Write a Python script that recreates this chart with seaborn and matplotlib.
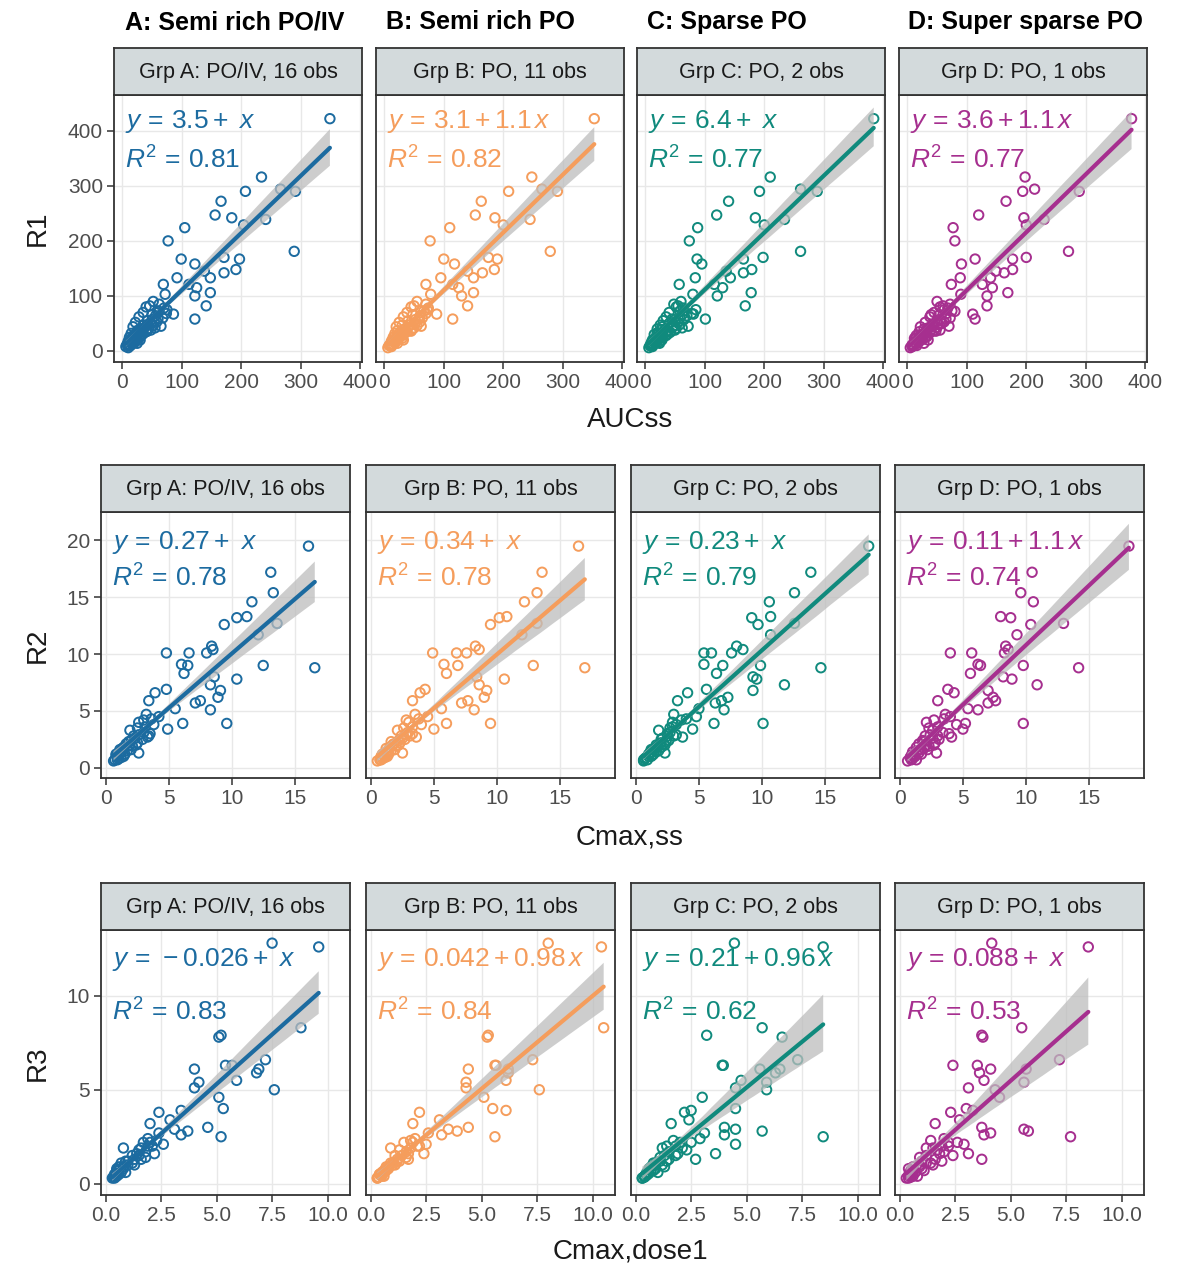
import numpy as np
import pandas as pd
import matplotlib
matplotlib.use('Agg')
import matplotlib.pyplot as plt
from matplotlib.collections import PolyCollection
import seaborn as sns

# ---- data -----------------------------------------------------------------
groups = ['A', 'B', 'C', 'D']
col_titles = ['A: Semi rich PO/IV', 'B: Semi rich PO', 'C: Sparse PO', 'D: Super sparse PO']
strip_labels = ['Grp A: PO/IV, 16 obs', 'Grp B: PO, 11 obs', 'Grp C: PO, 2 obs', 'Grp D: PO, 1 obs']
colors = ['#1c6ba0', '#f59d5c', '#108a7d', '#a62f8f']

# row 1: R1 vs AUCss
r1_y = [422, 290, 316, 290, 294, 272, 247, 242, 239, 229, 224, 200, 181, 167, 170, 167,
        148, 142, 145, 133, 158, 121, 133, 121, 115, 106, 100, 82, 58, 103, 67, 82, 73,
        90, 85, 80, 75, 70, 66, 62, 58, 55, 52, 50, 47, 44, 42, 40, 37, 35, 32, 30, 28,
        25, 23, 20, 18, 15, 12, 10, 8, 6, 20, 14, 45, 38,
        9, 11, 13, 16, 17, 19, 21, 22, 24, 26, 27, 29, 31, 33, 34, 36, 39, 41, 43, 46,
        48, 53, 57, 60, 64, 68, 72, 78]
r1_xa = [349, 291, 234, 207, 266, 166, 156, 184, 241, 204, 105, 77, 289, 99, 171, 197,
         191, 171, 138, 148, 122, 69, 92, 112, 125, 148, 122, 141, 122, 72, 86, 46, 59,
         52, 62, 40, 75, 35, 50, 28, 60, 42, 22, 48, 35, 18, 55, 30, 25, 40, 15, 32, 22,
         12, 28, 18, 10, 20, 8, 14, 6, 10, 30, 25, 65, 48,
         12, 9, 16, 13, 22, 15, 24, 16, 20, 30, 18, 26, 35, 24, 30, 42, 35, 44, 38, 52,
         42, 58, 50, 68, 56, 74, 62, 70]
r1_xb = [353, 291, 248, 209, 265, 163, 153, 186, 245, 200, 110, 77, 279, 100, 175, 190,
         185, 165, 140, 150, 118, 70, 95, 115, 125, 150, 130, 140, 115, 78, 88, 50, 62,
         55, 70, 45, 72, 38, 48, 32, 58, 40, 25, 52, 30, 20, 50, 35, 22, 38, 18, 28, 25,
         15, 30, 14, 12, 18, 10, 8, 12, 6, 32, 22, 62, 46,
         11, 13, 14, 17, 19, 16, 20, 24, 22, 27, 21, 32, 30, 26, 34, 45, 32, 48, 40, 55,
         44, 60, 52, 64, 60, 70, 66, 74]
r1_xc = [384, 289, 210, 192, 261, 140, 120, 185, 234, 200, 88, 74, 261, 87, 198, 165,
         179, 165, 136, 143, 95, 57, 84, 116, 130, 178, 121, 168, 101, 80, 81, 55, 66,
         60, 48, 52, 85, 40, 62, 35, 45, 30, 55, 40, 25, 28, 62, 20, 38, 30, 22, 15, 35,
         18, 25, 12, 20, 10, 14, 8, 12, 6, 28, 24, 72, 50,
         9, 12, 11, 15, 24, 14, 17, 20, 28, 22, 30, 24, 38, 20, 42, 36, 28, 52, 46, 48,
         58, 50, 65, 58, 70, 78, 58, 64]
r1_xd = [377, 289, 198, 194, 214, 166, 120, 196, 230, 200, 77, 80, 271, 114, 200, 177,
         177, 163, 149, 140, 91, 74, 89, 126, 143, 169, 134, 134, 114, 90, 110, 60, 75,
         50, 72, 55, 62, 45, 40, 38, 65, 50, 30, 58, 42, 22, 35, 28, 45, 20, 32, 25, 15,
         30, 12, 22, 18, 14, 10, 16, 8, 5, 35, 28, 70, 55,
         10, 8, 15, 12, 20, 18, 26, 14, 19, 33, 25, 22, 28, 38, 30, 48, 40, 36, 50, 44,
         52, 62, 55, 72, 52, 66, 80, 68]

# row 2: R2 vs Cmax,ss
r2_y = [19.5, 17.2, 15.4, 14.6, 13.3, 13.2, 12.6, 12.7, 11.7, 10.7, 10.4, 10.1, 10.1, 10.1,
        8.8, 9.0, 9.1, 9.0, 8.3, 8.0, 7.8, 7.3, 6.8, 6.2, 6.9, 5.7, 5.9, 5.1, 5.9, 6.6,
        3.9, 3.9, 3.4, 4.7, 5.2, 4.5, 4.2, 3.8, 3.5, 3.0, 2.8, 2.5, 2.3, 2.0, 1.8, 1.6,
        1.4, 1.2, 1.0, 0.9, 0.7, 0.6, 3.3, 2.7, 1.3, 4.0,
        0.8, 1.1, 1.3, 1.5, 1.7, 1.9, 2.1, 2.2, 2.4, 2.6, 2.9, 3.1, 3.6, 4.3, 1.0, 1.6,
        2.0, 0.7, 1.2, 2.8]
r2_xa = [16.1, 13.1, 13.3, 11.6, 11.2, 10.4, 9.4, 13.6, 12.1, 8.4, 8.5, 4.8, 6.6, 8.0,
         16.6, 12.5, 6.0, 6.5, 6.2, 8.6, 10.4, 8.3, 9.1, 8.9, 4.8, 7.1, 7.5, 8.3, 3.4, 3.9,
         9.6, 6.1, 4.9, 3.2, 5.5, 4.2, 3.0, 3.8, 2.5, 3.5, 2.2, 2.9, 1.8, 2.4, 1.4, 2.0,
         1.1, 1.5, 0.9, 1.2, 0.7, 0.6, 1.9, 3.3, 2.6, 2.6,
         1.0, 0.8, 1.2, 1.7, 1.3, 2.1, 1.6, 2.5, 2.0, 2.3, 2.6, 3.0, 3.1, 3.6, 1.4, 1.1,
         1.9, 0.9, 0.8, 3.4]
r2_xb = [16.5, 13.6, 13.2, 12.2, 10.8, 10.2, 9.5, 13.2, 12.0, 8.3, 8.6, 4.9, 6.8, 7.6,
         17.0, 12.9, 5.8, 6.9, 6.0, 8.4, 10.6, 8.6, 9.2, 9.0, 4.3, 7.2, 7.7, 8.2, 3.3, 3.9,
         9.5, 6.0, 5.0, 3.5, 5.6, 4.5, 2.8, 4.0, 2.6, 3.3, 2.4, 2.7, 1.6, 2.2, 1.5, 1.9,
         1.2, 1.4, 0.8, 1.1, 0.7, 0.5, 2.1, 3.6, 2.5, 3.0,
         0.9, 1.0, 1.3, 1.6, 1.2, 2.0, 1.8, 2.3, 2.2, 2.5, 2.8, 2.9, 3.3, 3.8, 1.3, 1.4,
         1.7, 0.8, 0.9, 3.1]
r2_xc = [18.5, 13.9, 12.6, 10.6, 10.7, 9.2, 9.7, 12.6, 10.7, 8.0, 8.5, 5.4, 6.0, 7.6,
         14.7, 9.9, 5.4, 6.9, 6.4, 9.3, 9.6, 11.8, 9.3, 7.3, 5.6, 6.3, 6.8, 7.0, 3.3, 4.1,
         10.1, 6.2, 4.5, 3.0, 5.0, 4.8, 3.6, 3.2, 2.7, 2.5, 3.0, 2.0, 2.4, 1.6, 2.0, 1.3,
         1.6, 1.0, 1.2, 0.8, 0.9, 0.6, 1.8, 3.7, 2.3, 2.9,
         0.7, 1.3, 1.1, 1.8, 1.5, 1.7, 2.2, 2.0, 2.6, 2.1, 3.2, 2.7, 2.9, 4.0, 1.0, 1.2,
         2.3, 0.6, 1.4, 2.5]
r2_xd = [18.2, 10.5, 9.6, 10.6, 8.0, 8.8, 10.4, 13.0, 9.3, 8.4, 8.6, 4.0, 5.7, 8.3,
         14.2, 9.8, 6.2, 6.4, 5.6, 8.2, 8.9, 10.9, 7.0, 7.4, 3.8, 7.0, 7.6, 6.2, 3.0, 4.3,
         9.8, 5.2, 5.0, 3.6, 5.4, 4.0, 2.7, 4.5, 2.3, 3.9, 2.0, 3.1, 1.9, 2.7, 1.3, 2.2,
         1.0, 1.7, 1.1, 0.8, 1.3, 0.6, 2.6, 4.1, 2.9, 2.1,
         1.0, 0.9, 1.5, 1.4, 1.9, 2.3, 1.5, 2.8, 1.8, 2.6, 2.4, 3.4, 3.0, 3.5, 1.2, 1.7,
         2.1, 0.9, 1.1, 3.0]

# row 3: R3 vs Cmax,dose1
r3_y = [12.8, 12.6, 8.3, 7.9, 7.8, 6.6, 6.1, 5.9, 6.3, 6.3, 5.5, 5.0, 6.1, 5.4, 5.1, 4.6,
        4.0, 3.9, 3.0, 2.5, 2.8, 2.9, 2.6, 2.1, 1.6, 3.8, 1.9, 3.2, 1.3, 2.2, 2.0, 1.8,
        1.5, 1.2, 1.0, 0.9, 0.7, 0.6, 0.5, 0.4, 0.3, 2.4, 2.7, 1.4, 3.4, 0.8, 2.3, 1.1,
        0.35, 0.45, 0.55, 0.6, 0.7, 0.8, 0.9, 1.0, 1.1, 1.2, 1.3, 1.5, 1.6, 1.7, 1.9, 2.0,
        0.5, 0.4, 0.3, 2.2]
r3_xa = [7.5, 9.6, 8.8, 5.2, 5.1, 7.2, 6.9, 6.8, 5.4, 5.7, 5.9, 7.6, 4.0, 4.2, 4.0, 5.1,
         5.3, 3.4, 4.6, 5.2, 3.7, 3.1, 3.4, 2.6, 2.2, 2.4, 0.8, 2.0, 1.6, 1.7, 2.1, 1.5,
         1.2, 1.0, 1.3, 0.8, 0.6, 0.9, 0.4, 0.5, 0.3, 1.9, 2.4, 1.8, 2.9, 0.5, 2.3, 0.7,
         0.35, 0.5, 0.45, 0.7, 0.5, 0.8, 0.6, 1.0, 1.2, 0.9, 1.3, 1.5, 1.4, 1.8, 1.6, 1.9,
         0.6, 0.4, 0.4, 2.0]
r3_xb = [8.0, 10.4, 10.5, 5.3, 5.25, 7.3, 6.2, 6.2, 5.6, 5.65, 6.1, 7.6, 4.4, 4.3, 4.3, 5.1,
         5.5, 6.1, 4.4, 5.6, 3.9, 3.5, 3.2, 2.5, 2.4, 2.2, 0.9, 1.9, 1.7, 1.5, 2.2, 1.3,
         1.1, 1.2, 1.0, 0.7, 0.6, 0.5, 0.4, 0.6, 0.3, 2.0, 2.6, 1.6, 3.1, 0.8, 1.8, 0.9,
         0.35, 0.45, 0.5, 0.6, 0.7, 0.7, 0.8, 1.1, 1.0, 1.3, 1.2, 1.4, 1.7, 1.6, 1.8, 2.1,
         0.4, 0.5, 0.3, 1.9]
r3_xc = [4.45, 8.45, 5.7, 3.2, 6.6, 7.3, 5.6, 6.3, 3.9, 3.95, 4.75, 5.9, 6.5, 5.9, 4.5, 3.0,
         4.5, 2.5, 4.0, 8.45, 5.7, 4.5, 4.0, 4.5, 3.6, 2.2, 1.2, 1.6, 2.7, 2.0, 1.4, 2.3,
         1.8, 1.4, 0.9, 1.3, 0.7, 1.0, 0.5, 0.4, 0.3, 2.9, 3.1, 1.1, 2.4, 0.6, 1.7, 0.8,
         0.4, 0.5, 0.6, 0.5, 0.8, 0.9, 0.7, 1.2, 0.9, 1.1, 1.5, 1.3, 1.9, 1.5, 2.1, 1.8,
         0.5, 0.4, 0.3, 2.5]
r3_xd = [4.15, 8.5, 5.5, 3.7, 3.75, 7.2, 4.1, 3.6, 3.5, 2.4, 3.8, 4.3, 5.7, 5.6, 3.1, 4.5,
         3.0, 3.3, 3.7, 7.7, 5.8, 5.6, 3.8, 2.9, 3.1, 2.3, 1.2, 1.6, 3.7, 2.6, 1.9, 1.7,
         2.4, 1.9, 1.5, 0.9, 1.1, 0.6, 0.5, 0.8, 0.4, 2.0, 4.1, 0.9, 2.7, 0.4, 1.4, 1.2,
         0.5, 0.4, 0.6, 0.7, 0.5, 1.0, 0.6, 0.9, 1.4, 1.0, 1.6, 1.2, 1.8, 2.0, 1.5, 2.2,
         0.5, 0.6, 0.3, 2.2]

eq_r1 = [r'$y\,=\,3.5+\ x$', r'$y\,=\,3.1+1.1\,x$', r'$y\,=\,6.4+\ x$', r'$y\,=\,3.6+1.1\,x$']
rsq_r1 = [r'$R^2\,=\,0.81$', r'$R^2\,=\,0.82$', r'$R^2\,=\,0.77$', r'$R^2\,=\,0.77$']
eq_r2 = [r'$y\,=\,0.27+\ x$', r'$y\,=\,0.34+\ x$', r'$y\,=\,0.23+\ x$', r'$y\,=\,0.11+1.1\,x$']
rsq_r2 = [r'$R^2\,=\,0.78$', r'$R^2\,=\,0.78$', r'$R^2\,=\,0.79$', r'$R^2\,=\,0.74$']
eq_r3 = [r'$y\,=\,-0.026+\ x$', r'$y\,=\,0.042+0.98\,x$', r'$y\,=\,0.21+0.96\,x$', r'$y\,=\,0.088+\ x$']
rsq_r3 = [r'$R^2\,=\,0.83$', r'$R^2\,=\,0.84$', r'$R^2\,=\,0.62$', r'$R^2\,=\,0.53$']

rows = [
    dict(y=r1_y, xs=[r1_xa, r1_xb, r1_xc, r1_xd], ylabel='R1', xlabel='AUCss',
         eq=eq_r1, rsq=rsq_r1, ylim=(-20, 465), yticks=[0, 100, 200, 300, 400],
         xticks=[0, 100, 200, 300, 400], fmt='{:.0f}'),
    dict(y=r2_y, xs=[r2_xa, r2_xb, r2_xc, r2_xd], ylabel='R2', xlabel='Cmax,ss',
         eq=eq_r2, rsq=rsq_r2, ylim=(-0.9, 22.5), yticks=[0, 5, 10, 15, 20],
         xticks=[0, 5, 10, 15], fmt='{:.0f}'),
    dict(y=r3_y, xs=[r3_xa, r3_xb, r3_xc, r3_xd], ylabel='R3', xlabel='Cmax,dose1',
         eq=eq_r3, rsq=rsq_r3, ylim=(-0.6, 13.5), yticks=[0, 5, 10],
         xticks=[0, 2.5, 5, 7.5, 10], fmt='{:.1f}'),
]

# ---- layout (pixels) -------------------------------------------------------
sns.set_theme(style='white')
plt.rcParams['font.family'] = ['Liberation Sans', 'DejaVu Sans']
plt.rcParams['mathtext.fontset'] = 'custom'
plt.rcParams['mathtext.rm'] = 'Liberation Sans'
plt.rcParams['mathtext.it'] = 'Liberation Sans:italic'

W, H = 1187, 1269
fig = plt.figure(figsize=(W / 100, H / 100), dpi=100)


def px_axes(x0, y0, x1, y1):
    return fig.add_axes([x0 / W, 1 - y1 / H, (x1 - x0) / W, (y1 - y0) / H])


row_x0 = [[114, 376, 637, 899], [101, 366, 631, 895], [101, 366, 631, 895]]
row_w = [248, 249, 249]
row_strip = [(48, 95), (465, 512), (883, 930)]
row_bottom = [362, 778, 1195]
eq_pos = [(0.90, 0.755), (0.887, 0.752), (0.887, 0.69)]
xlabel_y = [420, 838, 1252]
ylabel_y = [228, 645, 1063]
strip_fc = '#d3dadc'
edge = '#333333'

for r, row in enumerate(rows):
    allx = np.concatenate([np.asarray(v, float) for v in row['xs']])
    span = allx.max() - allx.min()
    xlim = (allx.min() - 0.05 * span, allx.max() + 0.05 * span)
    s0, s1 = row_strip[r]
    for g in range(4):
        x0 = row_x0[r][g]
        x1 = x0 + row_w[r]
        df = pd.DataFrame({'x': row['xs'][g], 'y': row['y']})
        ax = px_axes(x0, s1, x1, row_bottom[r])
        ax.set_axisbelow(True)
        ax.grid(True, color='#e8e8e8', lw=1.0)
        sns.scatterplot(data=df, x='x', y='y', ax=ax, marker='o', s=46,
                        color=colors[g], facecolor='none', edgecolor=colors[g],
                        linewidth=1.4, zorder=3)
        n_before = len(ax.collections)
        sns.regplot(data=df, x='x', y='y', ax=ax, scatter=False, color=colors[g],
                    ci=85, seed=0, line_kws={'lw': 3.0, 'zorder': 5})
        for coll in ax.collections[n_before:]:
            if isinstance(coll, PolyCollection):
                coll.set_facecolor('#bdbdbd')
                coll.set_alpha(0.75)
                coll.set_edgecolor('none')
                coll.set_zorder(4)
        ax.set_xlim(xlim)
        ax.set_ylim(row['ylim'])
        ax.set_xticks(row['xticks'])
        ax.set_xticklabels([row['fmt'].format(t) for t in row['xticks']])
        ax.set_yticks(row['yticks'])
        ax.set_xlabel('')
        ax.set_ylabel('')
        ax.tick_params(axis='both', direction='out', length=5, width=1.1, color=edge,
                       labelsize=15, labelcolor='#4d4d4d', pad=3)
        if g > 0:
            ax.tick_params(axis='y', left=False, labelleft=False)
        else:
            ax.tick_params(axis='y', left=True)
        ax.tick_params(axis='x', bottom=True)
        for sp in ax.spines.values():
            sp.set_visible(True)
            sp.set_color(edge)
            sp.set_linewidth(1.3)
        ax.text(0.045, eq_pos[r][0], row['eq'][g], transform=ax.transAxes,
                color=colors[g], fontsize=19, va='center', ha='left', zorder=6)
        ax.text(0.045, eq_pos[r][1], row['rsq'][g], transform=ax.transAxes,
                color=colors[g], fontsize=19, va='center', ha='left', zorder=6)

        # facet strip
        sax = px_axes(x0, s0, x1, s1)
        sax.set_facecolor(strip_fc)
        sax.set_xticks([])
        sax.set_yticks([])
        for sp in sax.spines.values():
            sp.set_visible(True)
            sp.set_color(edge)
            sp.set_linewidth(1.3)
        sax.text(0.5, 0.48, strip_labels[g], transform=sax.transAxes, ha='center',
                 va='center', fontsize=15.5, color='#1a1a1a')

    fig.text(630 / W, 1 - xlabel_y[r] / H, row['xlabel'], ha='center', va='center',
             fontsize=20, color='#1a1a1a')
    fig.text(38 / W, 1 - ylabel_y[r] / H, row['ylabel'], ha='center', va='center',
             fontsize=20, color='#1a1a1a', rotation=90)

title_x = [235, 480, 727, 1025]
for g in range(4):
    fig.text(title_x[g] / W, 1 - 22 / H, col_titles[g], ha='center', va='center',
             fontsize=18, fontweight='bold', color='black')

fig.savefig('out.png', dpi=100)
